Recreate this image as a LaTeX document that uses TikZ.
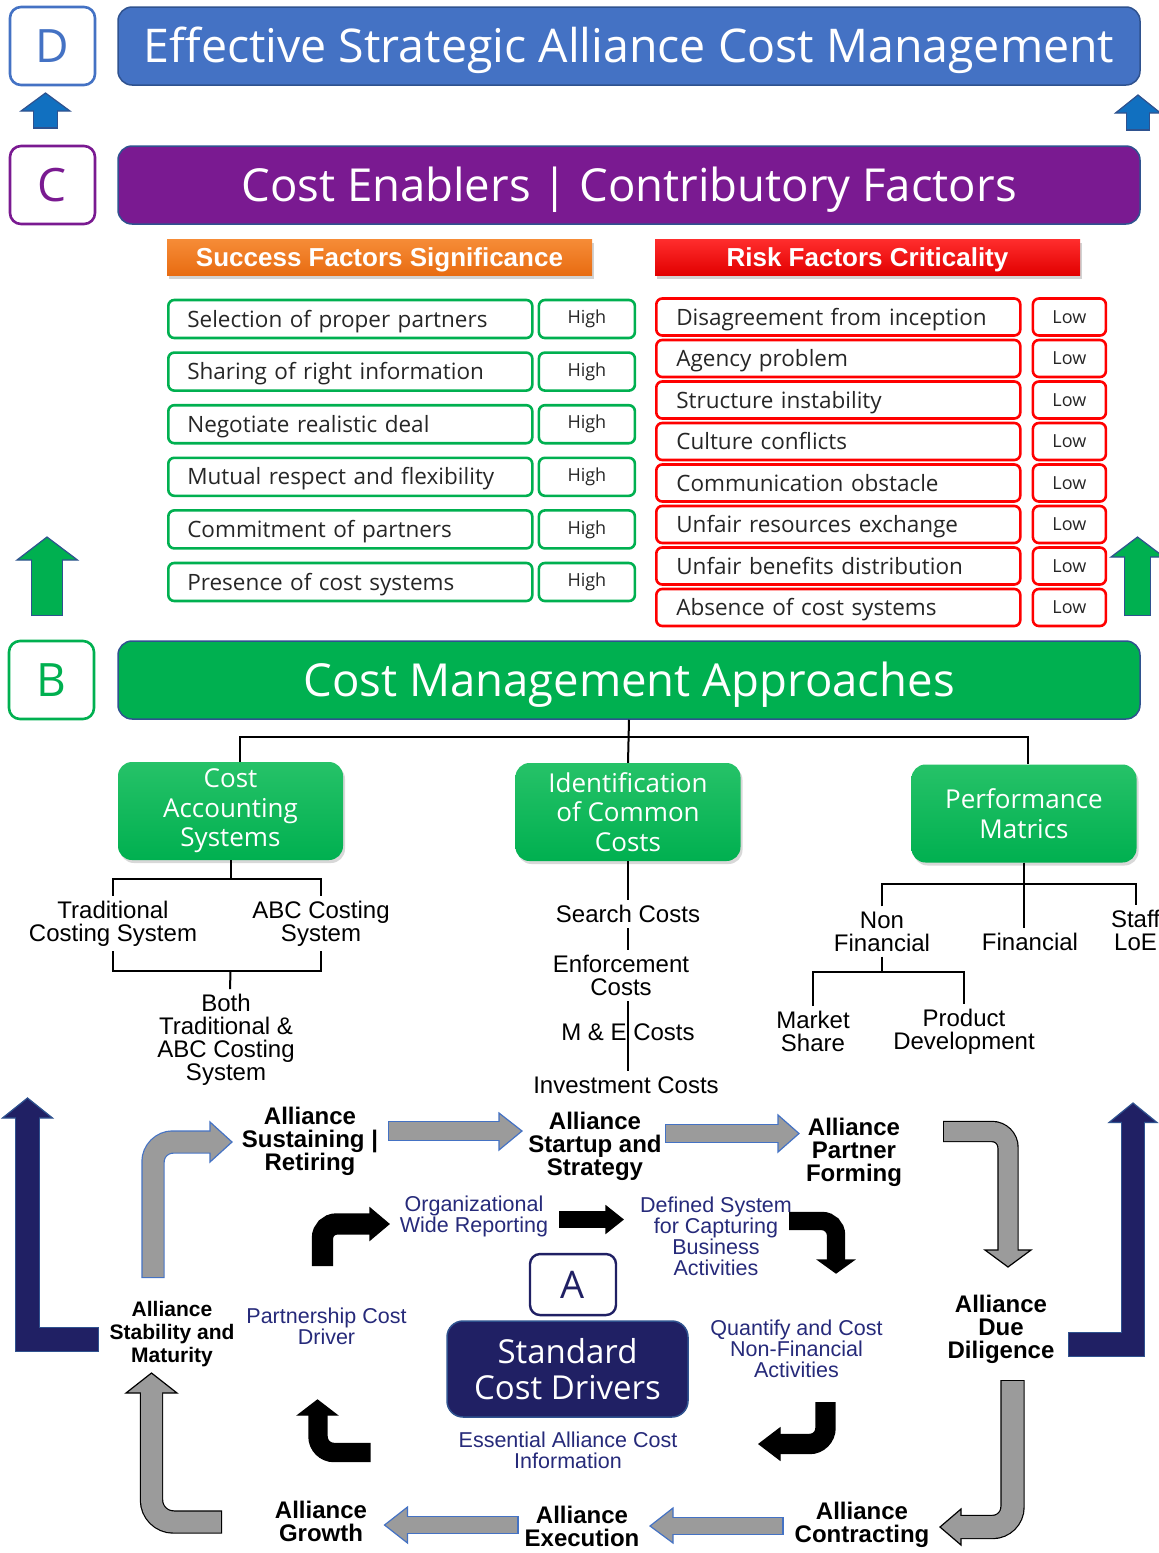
\documentclass[tikz,border=0pt]{standalone}
\usepackage{fontspec}
\newfontfamily\segoefont{Open Sans}
\newfontfamily\arialfont{Liberation Sans}
\usetikzlibrary{positioning, shadows}

\definecolor{dblue}{RGB}{68,114,196}
\definecolor{edgeblue}{RGB}{47,82,143}
\definecolor{cpurple}{RGB}{122,26,145}
\definecolor{bgreen}{RGB}{0,176,80}
\definecolor{lightgreen}{RGB}{38,194,104}
\definecolor{hiorange}{RGB}{232,108,18}
\definecolor{orangetop}{RGB}{246,140,55}
\definecolor{riskred}{RGB}{255,0,0}
\definecolor{redtop}{RGB}{255,45,45}
\definecolor{redbottom}{RGB}{226,0,0}
\definecolor{navy}{RGB}{32,32,100}
\definecolor{navytext}{RGB}{38,42,122}
\definecolor{arrowgray}{RGB}{155,155,155}
\definecolor{upblue}{RGB}{17,112,192}

% thick block arrow: outline stroke, head, then body stroke on top
% #1 fill, #2 outline, #3 shaft width, #4 shaft path, #5 head corners
\newcommand{\blockarrow}[5]{%
  \draw[line width=#3+2.4pt, draw=#2] #4;
  \filldraw[fill=#1, draw=#2, line width=1.2pt] #5 -- cycle;
  \draw[line width=#3, draw=#1, shorten <=1.2pt] #4;
}

\begin{document}
\begin{tikzpicture}[x=1pt, y=-1pt,
    tag/.style={draw=#1, text=#1, fill=white, line width=2.6pt, rounded corners=11pt,
        minimum width=85pt, minimum height=78pt, inner sep=0pt,
        font=\segoefont\fontsize{46}{50}\selectfont},
    bar/.style={fill=#1, draw=edgeblue, line width=1.5pt, rounded corners=14pt,
        minimum width=1022pt, minimum height=78pt, inner sep=0pt, text=white,
        text height=32.5pt, text depth=0pt,
        font=\segoefont\fontsize{45.5}{50}\selectfont},
    header/.style={minimum width=425pt, minimum height=36pt, inner sep=0pt, text=white,
        text height=18.5pt, text depth=0pt,
        font=\arialfont\bfseries\fontsize{26}{28}\selectfont,
        drop shadow={opacity=0.35, shadow xshift=1.5pt, shadow yshift=-3.5pt}},
    factor/.style={draw=#1, line width=2.6pt, rounded corners=6pt, anchor=west,
        text width=326pt, inner xsep=19pt, inner ysep=0pt, minimum height=38pt,
        text height=18pt, text depth=2pt,
        align=left, text=black!85, font=\segoefont\fontsize{22.5}{26}\selectfont},
    level/.style={draw=#1, line width=2.6pt, rounded corners=6pt, inner sep=0pt,
        minimum height=38pt, text=black!85, font=\segoefont\fontsize{18}{20}\selectfont},
    approach/.style={top color=lightgreen, bottom color=bgreen, rounded corners=14pt,
        minimum width=225pt, minimum height=98pt, inner sep=0pt, align=center, text=white,
        font=\segoefont\fontsize{26}{29.5}\selectfont,
        drop shadow={opacity=0.3, shadow xshift=2pt, shadow yshift=-3pt}},
    branch/.style={align=center, inner sep=5pt, font=\arialfont\fontsize{24}{23}\selectfont},
    stage/.style={align=center, inner sep=2pt, font=\arialfont\bfseries\fontsize{24}{23}\selectfont},
    driver/.style={align=center, inner sep=2pt, text=navytext, font=\arialfont\fontsize{21.5}{21}\selectfont},
    link/.style={draw, line width=2pt},
]
\fill[white] (0,0) rectangle (1159,1553);
\useasboundingbox (0,0) rectangle (1159,1553);

% level D and C
\node[tag=dblue] (dtag) at (52.5,46) {D};
\node[bar=dblue, font=\segoefont\fontsize{46.5}{50}\selectfont] (dbar) at (629,46) {Effective Strategic Alliance Cost Management};
\node[tag=cpurple] (ctag) at (52.5,185) {C};
\node[bar=cpurple] (cbar) at (629,185) {Cost Enablers | Contributory Factors};

\blockarrow{upblue}{edgeblue}{23.5pt}{(45.5,128.5) -- (45.5,108)}{(21,111) -- (45.5,93) -- (70,111)}
\blockarrow{upblue}{edgeblue}{22pt}{(1138,130.5) -- (1138,110)}{(1115.5,113) -- (1138,95) -- (1160.5,113)}

% success and risk factors
\node[header, top color=orangetop, bottom color=hiorange] (succ) at (379.5,257) {Success Factors Significance};
\node[header, top color=redtop, bottom color=redbottom] (risk) at (867.5,257) {Risk Factors Criticality};

\foreach \txt [count=\i] in {Selection of proper partners, Sharing of right information,
    Negotiate realistic deal, Mutual respect and flexibility, Commitment of partners,
    Presence of cost systems} {
  \node[factor=bgreen] (s\i) at (167,{319+52.6*(\i-1)}) {\txt};
  \node[level=bgreen, minimum width=96pt, right=4pt of s\i] (sv\i) {High};
}
\foreach \txt [count=\i] in {Disagreement from inception, Agency problem, Structure instability,
    Culture conflicts, Communication obstacle, Unfair resources exchange,
    Unfair benefits distribution, Absence of cost systems} {
  \node[factor=riskred, minimum height=37pt, inner xsep=20pt, text width=324pt] (r\i) at (655,{317+41.5*(\i-1)}) {\txt};
  \node[level=riskred, minimum width=73pt, minimum height=37pt, right=10pt of r\i] (rv\i) {Low};
}

\blockarrow{bgreen}{edgeblue}{30.5pt}{(47,616) -- (47,557)}{(17,560) -- (47,537) -- (77.5,560)}
\blockarrow{bgreen}{edgeblue}{25pt}{(1137.5,616) -- (1137.5,554)}{(1111,557) -- (1137.5,537) -- (1164,557)}

% level B
\node[tag=bgreen] (btag) at (51.5,680) {B};
\node[bar=bgreen] (bbar) at (629,680) {Cost Management Approaches};

\node[approach] (cas) at (230.5,811) {Cost\\Accounting\\Systems};
\node[approach] (ident) at (628,812) {Identification\\of Common\\Costs};
\node[approach] (perf) at (1024,813.5) {Performance\\Matrics};

\node[branch] (trad) at (113,923.5) {Traditional\\Costing System};
\node[branch] (abc) at (321,923.5) {ABC Costing\\System};
\node[branch] (both) at (226,1040) {Both\\Traditional \&\\ABC Costing\\System};
\node[branch] (search) at (628,914) {Search Costs};
\node[branch] (enf) at (621,975.5) {Enforcement\\Costs};
\node[branch] (mecost) at (628,1032) {M \& E Costs};
\node[branch] (invest) at (626,1085) {Investment Costs};
\node[branch] (nonfin) at (882,931.5) {Non\\Financial};
\node[branch] (fin) at (1030,942) {Financial};
\node[branch] (staff) at (1135.5,930) {Staff\\LoE};
\node[branch] (market) at (813,1031.5) {Market\\Share};
\node[branch] (product) at (964,1031.5) {Product\\Development};

\draw[link] (bbar.south) -- (ident.north);
\draw[link] ([xshift=9.5pt]cas.north) -- ++(0,-25) -| ([xshift=4pt]perf.north);
\draw[link] (cas.south) -- ++(0,19) coordinate (casfork);
\draw[link] (trad.north) |- (casfork) -| (abc.north);
\draw[link] (trad.south) -- ++(0,20) coordinate (tradjoin) -| (abc.south);
\draw[link] (tradjoin -| cas.south) -- ([xshift=4pt]both.north);
\draw[link] (ident.south) -- (search.north);
\draw[link] (search.south) -- (search.south |- enf.north);
\draw[link] (search.south |- enf.south) -- (search.south |- invest.north);
\draw[link] (perf.south) -- (perf.south |- fin.north);
\draw[link] (perf.south) -- ++(0,21) coordinate (perffork);
\draw[link] (nonfin.north) |- (perffork) -| (staff.north);
\draw[link] (nonfin.south) -- ++(0,15) coordinate (nonfork);
\draw[link] (market.north) |- (nonfork) -| (product.north);

% level A: the alliance cycle
\node[stage] (sust) at (310,1141) {Alliance\\Sustaining |\\Retiring};
\node[stage] (startup) at (595,1146) {Alliance\\Startup and\\Strategy};
\node[stage] (partner) at (854,1152.5) {Alliance\\Partner\\Forming};
\node[stage] (duedil) at (1001,1329) {Alliance\\Due\\Diligence};
\node[stage] (contract) at (862,1525) {Alliance\\Contracting};
\node[stage] (execute) at (582,1526) {Alliance\\Execution};
\node[stage] (growth) at (321,1521) {Alliance\\Growth};
\node[stage, font=\arialfont\bfseries\fontsize{21}{23}\selectfont] (stab) at (172,1334) {Alliance\\Stability and\\Maturity};

\node[driver] (orgrep) at (474,1216) {Organizational\\Wide Reporting};
\node[driver] (defsys) at (716,1236.5) {Defined System\\for Capturing\\Business\\Activities};
\node[driver] (pcost) at (326.5,1326) {Partnership Cost\\Driver};
\node[driver] (quant) at (796.5,1348.5) {Quantify and Cost\\Non-Financial\\Activities};
\node[driver] (essen) at (568,1450) {Essential Alliance Cost\\Information};

\node[fill=navy, draw=edgeblue, line width=1.5pt, rounded corners=16pt, minimum width=241pt,
    minimum height=96pt, text=white, align=center,
    font=\segoefont\fontsize{33}{36}\selectfont] (stdcost) at (567.5,1369) {Standard\\Cost Drivers};
\node[draw=navy, line width=2.4pt, rounded corners=10pt, fill=white, minimum width=86pt,
    minimum height=61pt, inner sep=0pt, text=navy, font=\segoefont\fontsize{38}{40}\selectfont,
    above=4pt of stdcost, xshift=5.5pt] (atag) {A};

% outer cycle
\blockarrow{arrowgray}{dblue}{21pt}{[rounded corners=20pt] (153,1278) -- (153,1142) -- (214,1142)}{(210,1122) -- (232,1142) -- (210,1162)}
\blockarrow{arrowgray}{dblue}{18pt}{(388,1131) -- (502,1131)}{(499,1113) -- (522,1131) -- (499,1150)}
\blockarrow{arrowgray}{dblue}{17pt}{(665,1133.5) -- (781,1133.5)}{(778,1115) -- (799,1133.5) -- (778,1152)}
\blockarrow{arrowgray}{black}{19pt}{[rounded corners=16pt] (943,1131.5) -- (1008,1131.5) -- (1008,1253)}{(985,1250) -- (1008,1267) -- (1031,1250)}
\blockarrow{arrowgray}{black}{22pt}{[rounded corners=20pt] (1012.5,1380) -- (1012.5,1527) -- (958,1527)}{(961,1509) -- (940,1527) -- (961,1545)}
\blockarrow{arrowgray}{dblue}{16.5pt}{(783.5,1526) -- (670,1526)}{(673,1508) -- (650,1526) -- (673,1543)}
\blockarrow{arrowgray}{dblue}{16.5pt}{(518.5,1525) -- (404,1525)}{(407.5,1507) -- (384.5,1525) -- (407.5,1543)}
\blockarrow{arrowgray}{black}{21pt}{[rounded corners=22pt] (222,1522) -- (151.5,1522) -- (151.5,1390)}{(126,1393) -- (151.5,1373) -- (177,1393)}

% inner cycle
\blockarrow{black}{black}{19pt}{[rounded corners=14pt] (322.5,1266) -- (322.5,1224) -- (373,1224)}{(370,1208) -- (389,1224) -- (370,1240)}
\blockarrow{black}{black}{15pt}{(559,1219.5) -- (609,1219.5)}{(606,1206) -- (623,1219.5) -- (606,1233)}
\blockarrow{black}{black}{16pt}{[rounded corners=14pt] (789,1221) -- (836,1221) -- (836,1263)}{(818,1260) -- (836,1273) -- (854,1260)}
\blockarrow{black}{black}{18pt}{[rounded corners=16pt] (825.5,1402) -- (825.5,1444) -- (777,1444)}{(780,1428) -- (759,1444) -- (780,1460)}
\blockarrow{black}{black}{17pt}{[rounded corners=16pt] (370.5,1452.5) -- (318,1452.5) -- (318,1412)}{(298,1415) -- (317.5,1400) -- (337,1415)}

% feedback to level B
\blockarrow{navy}{edgeblue}{23pt}{(99,1339.5) -- (27.5,1339.5) -- (27.5,1115)}{(2.5,1118) -- (27.5,1098) -- (52.5,1118)}
\blockarrow{navy}{edgeblue}{22.5pt}{(1068,1344.5) -- (1133,1344.5) -- (1133,1120)}{(1109,1122.5) -- (1133,1103) -- (1157,1122.5)}
\end{tikzpicture}
\end{document}
